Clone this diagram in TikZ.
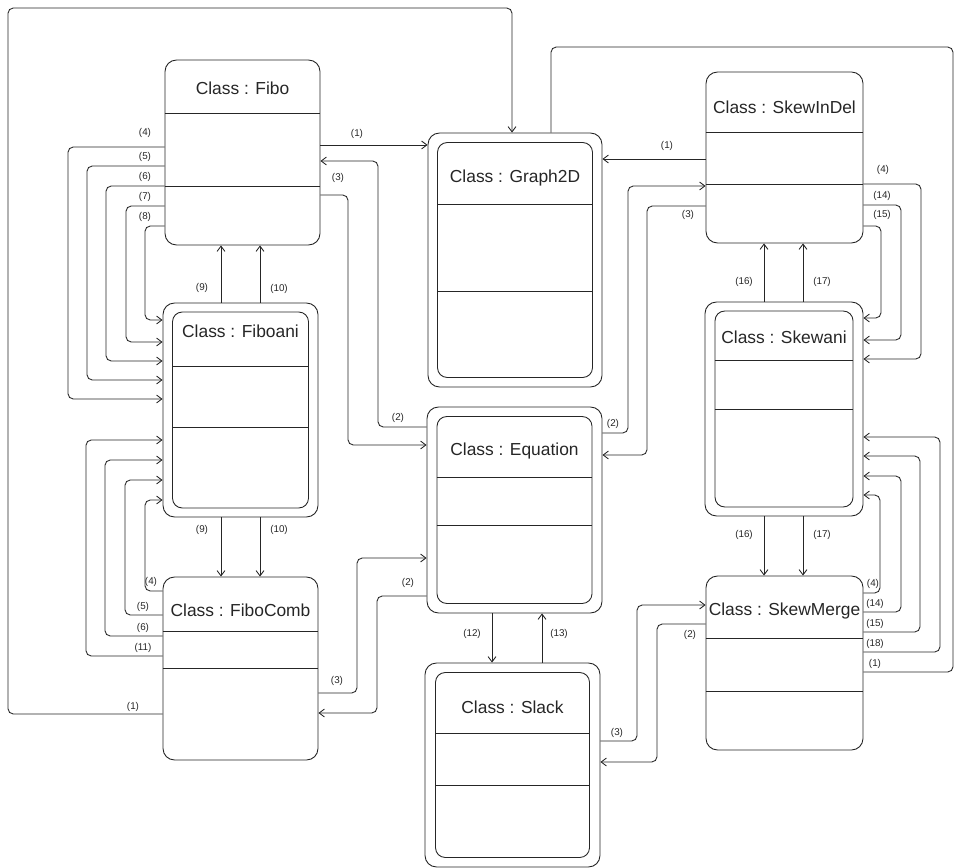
\documentclass[tikz,border=0pt]{standalone}
\usepackage{fontspec}
\setmainfont{Liberation Sans}
\usetikzlibrary{arrows.meta}

\tikzset{
  cls/.style={draw, rounded corners=6.5pt, inner sep=0pt},
  clsin/.style={draw, rounded corners=5.5pt, inner sep=0pt},
  ttl/.style={font=\fontsize{9.9}{12}\selectfont, inner sep=0pt},
  lbl/.style={font=\fontsize{5.6}{6}\selectfont, inner sep=0pt},
  conn/.style={rounded corners=3pt},
}

\begin{document}
\begin{tikzpicture}[x=0.02cm, y=-0.02cm, >={Straight Barb[length=3pt,width=4.5pt]}, line width=0.5pt, color=black!85]

    \useasboundingbox (0,0) rectangle (954,868);

    % Classi (riquadri semplici e doppi)
    \node[cls, minimum width=3.10cm, minimum height=3.70cm] (fibo) at (242.5,152.5) {};
    \node[cls, minimum width=3.48cm, minimum height=5.08cm] (graph) at (515,260) {};
    \node[clsin, minimum width=3.10cm, minimum height=4.70cm] (graphI) at (graph.center) {};
    \node[cls, minimum width=3.14cm, minimum height=3.42cm] (skin) at (784.5,157.5) {};
    \node[cls, minimum width=3.10cm, minimum height=4.28cm] (ani) at (240.5,410) {};
    \node[clsin, minimum width=2.72cm, minimum height=3.92cm] (aniI) at (ani.center) {};
    \node[cls, minimum width=3.50cm, minimum height=4.12cm] (eq) at (514.5,510) {};
    \node[clsin, minimum width=3.10cm, minimum height=3.74cm] (eqI) at (eq.center) {};
    \node[cls, minimum width=3.16cm, minimum height=4.28cm] (skani) at (784,409) {};
    \node[clsin, minimum width=2.76cm, minimum height=3.92cm] (skaniI) at (skani.center) {};
    \node[cls, minimum width=3.10cm, minimum height=3.66cm] (comb) at (240.5,668.5) {};
    \node[cls, minimum width=3.50cm, minimum height=4.08cm] (slack) at (512.5,765) {};
    \node[clsin, minimum width=3.08cm, minimum height=3.70cm] (slackI) at (slack.center) {};
    \node[cls, minimum width=3.14cm, minimum height=3.48cm] (merge) at (784.5,663) {};

    % Titoli
    \node[ttl] (fiboT) at (fibo.north |- 0,88) {Class : Fibo};
    \node[ttl] (graphT) at (graph.north |- 0,178) {Class : Graph2D};
    \node[ttl] (skinT) at (skin.north |- 0,107) {Class : SkewInDel};
    \node[ttl] (aniT) at (ani.north |- 0,331) {Class : Fiboani};
    \node[ttl] (eqT) at (eq.north |- 0,451) {Class : Equation};
    \node[ttl] (skaniT) at (skani.north |- 0,337) {Class : Skewani};
    \node[ttl] (combT) at (comb.north |- 0,610) {Class : FiboComb};
    \node[ttl] (slackT) at (slack.north |- 0,707) {Class : Slack};
    \node[ttl] (mergeT) at (merge.north |- 0,611) {Class : SkewMerge};

    % Separatori
    \draw (fibo.west |- 0,113) -- (fibo.east |- 0,113);
    \draw (fibo.west |- 0,186) -- (fibo.east |- 0,186);
    \draw (graphI.west |- 0,204) -- (graphI.east |- 0,204);
    \draw (graphI.west |- 0,291) -- (graphI.east |- 0,291);
    \draw (skin.west |- 0,132) -- (skin.east |- 0,132);
    \draw (skin.west |- 0,184) -- (skin.east |- 0,184);
    \draw (aniI.west |- 0,366) -- (aniI.east |- 0,366);
    \draw (aniI.west |- 0,427) -- (aniI.east |- 0,427);
    \draw (eqI.west |- 0,477) -- (eqI.east |- 0,477);
    \draw (eqI.west |- 0,525) -- (eqI.east |- 0,525);
    \draw (skaniI.west |- 0,360) -- (skaniI.east |- 0,360);
    \draw (skaniI.west |- 0,409) -- (skaniI.east |- 0,409);
    \draw (comb.west |- 0,631) -- (comb.east |- 0,631);
    \draw (comb.west |- 0,668) -- (comb.east |- 0,668);
    \draw (slackI.west |- 0,733) -- (slackI.east |- 0,733);
    \draw (slackI.west |- 0,785) -- (slackI.east |- 0,785);
    \draw (merge.west |- 0,638) -- (merge.east |- 0,638);
    \draw (merge.west |- 0,691) -- (merge.east |- 0,691);

    % Anelli esterni verso Graph2D
    \draw[->, conn] (comb.west |- 0,714) -- (8,714) -- (8,8) -- (512,8) -- (graph.north -| 512,0);
    \draw[conn] (merge.east |- 0,672) -- (953,672) -- (953,47) -- (551,47) -- (graph.north -| 551,0);
    \node[lbl] (l1a) at (133,707) {(1)};
    \node[lbl] (l1b) at (875,664) {(1)};

    % Fibo - Graph2D - Equation
    \draw[->] (fibo.east |- 0,145) -- (graph.west |- 0,145);
    \node[lbl] (l1c) at (357,134) {(1)};
    \draw[->, conn] (eq.west |- 0,427) -- (378,427) -- (378,161) -- (fibo.east |- 0,161);
    \node[lbl] (l2a) at (398,418) {(2)};
    \draw[->, conn] (fibo.east |- 0,195) -- (348,195) -- (348,445) -- (eq.west |- 0,445);
    \node[lbl] (l3a) at (338,178) {(3)};

    % SkewInDel - Graph2D - Equation
    \draw[->] (skin.west |- 0,159) -- (graph.east |- 0,159);
    \node[lbl] (l1d) at (667,146) {(1)};
    \draw[->, conn] (eq.east |- 0,433) -- (628,433) -- (628,186) -- (skin.west |- 0,186);
    \node[lbl] (l2b) at (613,424) {(2)};
    \draw[->, conn] (skin.west |- 0,206) -- (647,206) -- (647,455) -- (eq.east |- 0,455);
    \node[lbl] (l3b) at (688,215) {(3)};

    % Fibo -> Fiboani (lato sinistro)
    \draw[->, conn] (fibo.west |- 0,147) -- (68,147) -- (68,399) -- (ani.west |- 0,399);
    \draw[->, conn] (fibo.west |- 0,166) -- (87,166) -- (87,380) -- (ani.west |- 0,380);
    \draw[->, conn] (fibo.west |- 0,186) -- (106,186) -- (106,361) -- (ani.west |- 0,361);
    \draw[->, conn] (fibo.west |- 0,206) -- (126,206) -- (126,342) -- (ani.west |- 0,342);
    \draw[->, conn] (fibo.west |- 0,226) -- (145,226) -- (145,320) -- (ani.west |- 0,320);
    \node[lbl] (l4a) at (145,133) {(4)};
    \node[lbl] (l5a) at (145,157) {(5)};
    \node[lbl] (l6a) at (145,177) {(6)};
    \node[lbl] (l7a) at (145,197) {(7)};
    \node[lbl] (l8a) at (145,217) {(8)};

    % Fibo, Fiboani, FiboComb (verticali)
    \draw[->] (ani.north -| 221,0) -- (fibo.south -| 221,0);
    \draw[->] (ani.north -| 260,0) -- (fibo.south -| 260,0);
    \draw[->] (ani.south -| 221,0) -- (comb.north -| 221,0);
    \draw[->] (ani.south -| 260,0) -- (comb.north -| 260,0);
    \node[lbl] (l9a) at (202,288) {(9)};
    \node[lbl] (l10a) at (279,289) {(10)};
    \node[lbl] (l9b) at (202,530) {(9)};
    \node[lbl] (l10b) at (279,530) {(10)};

    % FiboComb -> Fiboani (lato sinistro)
    \draw[->, conn] (comb.west |- 0,591) -- (145,591) -- (145,500) -- (ani.west |- 0,500);
    \draw[->, conn] (comb.west |- 0,615) -- (125,615) -- (125,480) -- (ani.west |- 0,480);
    \draw[->, conn] (comb.west |- 0,636) -- (105,636) -- (105,460) -- (ani.west |- 0,460);
    \draw[->, conn] (comb.west |- 0,656) -- (86,656) -- (86,440) -- (ani.west |- 0,440);
    \node[lbl] (l4b) at (151,582) {(4)};
    \node[lbl] (l5b) at (143,607) {(5)};
    \node[lbl] (l6b) at (143,628) {(6)};
    \node[lbl] (l11a) at (143,648) {(11)};

    % FiboComb - Equation
    \draw[->, conn] (comb.east |- 0,693) -- (357,693) -- (357,558) -- (eq.west |- 0,558);
    \node[lbl] (l3c) at (337,681) {(3)};
    \draw[->, conn] (eq.west |- 0,596) -- (377,596) -- (377,713) -- (comb.east |- 0,713);
    \node[lbl] (l2c) at (408,583) {(2)};

    % Equation - Slack
    \draw[->] (eq.south -| 492,0) -- (slack.north -| 492,0);
    \draw[->] (slack.north -| 542,0) -- (eq.south -| 542,0);
    \node[lbl] (l12a) at (472,634) {(12)};
    \node[lbl] (l13a) at (559,634) {(13)};

    % Slack - SkewMerge
    \draw[->, conn] (slack.east |- 0,741) -- (637,741) -- (637,605) -- (merge.west |- 0,605);
    \node[lbl] (l3d) at (617,733) {(3)};
    \draw[->, conn] (merge.west |- 0,624) -- (657,624) -- (657,762) -- (slack.east |- 0,762);
    \node[lbl] (l2d) at (690,635) {(2)};

    % SkewInDel, Skewani, SkewMerge (verticali)
    \draw[->] (skani.north -| 764,0) -- (skin.south -| 764,0);
    \draw[->] (skani.north -| 803,0) -- (skin.south -| 803,0);
    \draw[->] (skani.south -| 764,0) -- (merge.north -| 764,0);
    \draw[->] (skani.south -| 803,0) -- (merge.north -| 803,0);
    \node[lbl] (l16a) at (744,282) {(16)};
    \node[lbl] (l17a) at (822,282) {(17)};
    \node[lbl] (l16b) at (744,535) {(16)};
    \node[lbl] (l17b) at (822,535) {(17)};

    % SkewInDel -> Skewani (lato destro)
    \draw[->, conn] (skin.east |- 0,184) -- (921,184) -- (921,359) -- (skani.east |- 0,359);
    \draw[->, conn] (skin.east |- 0,205) -- (901,205) -- (901,340) -- (skani.east |- 0,340);
    \draw[->, conn] (skin.east |- 0,226) -- (881,226) -- (881,318) -- (skani.east |- 0,318);
    \node[lbl] (l4c) at (883,170) {(4)};
    \node[lbl] (l14a) at (882,196) {(14)};
    \node[lbl] (l15a) at (882,215) {(15)};

    % SkewMerge -> Skewani (lato destro)
    \draw[->, conn] (merge.east |- 0,593) -- (880,593) -- (880,495) -- (skani.east |- 0,495);
    \draw[->, conn] (merge.east |- 0,612) -- (901,612) -- (901,476) -- (skani.east |- 0,476);
    \draw[->, conn] (merge.east |- 0,632) -- (920,632) -- (920,456) -- (skani.east |- 0,456);
    \draw[->, conn] (merge.east |- 0,652) -- (940,652) -- (940,437) -- (skani.east |- 0,437);
    \node[lbl] (l4d) at (873,584) {(4)};
    \node[lbl] (l14b) at (875,604) {(14)};
    \node[lbl] (l15b) at (875,624) {(15)};
    \node[lbl] (l18a) at (875,644) {(18)};

\end{tikzpicture}
\end{document}
